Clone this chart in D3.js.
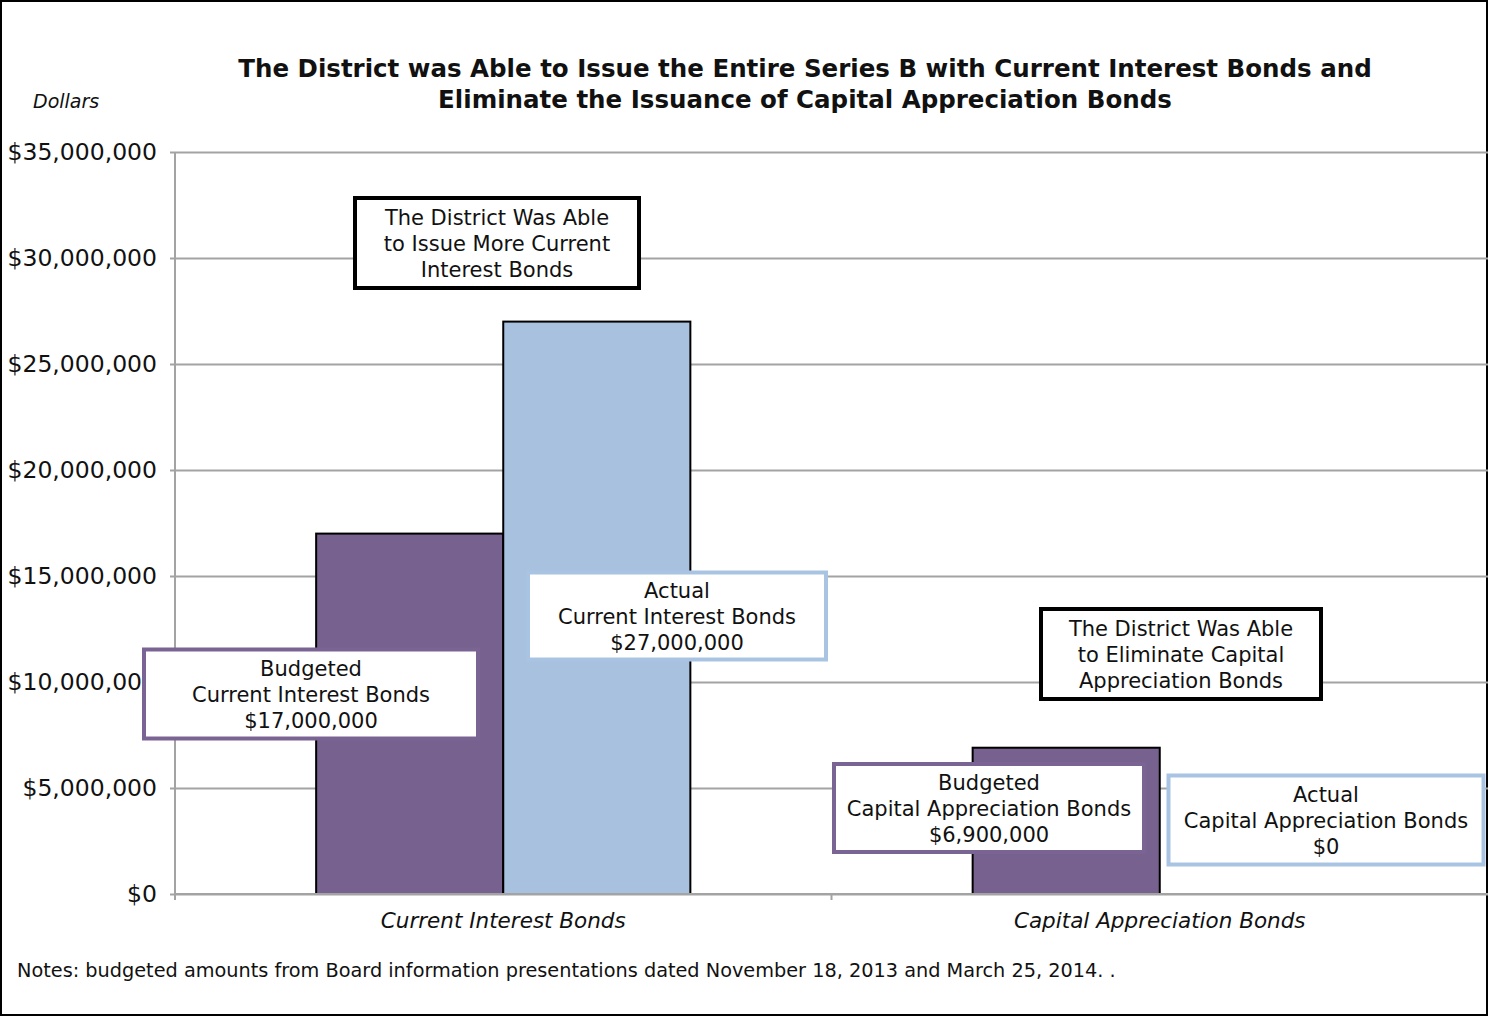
<!DOCTYPE html>
<html>
<head>
<meta charset="utf-8">
<script src="https://cdn.jsdelivr.net/npm/d3@7"></script>
<style>
  body { margin: 0; background: #fff; }
  svg { display: block; }
  text { font-family: "DejaVu Sans", Roboto, sans-serif; fill: #111; }
</style>
</head>
<body>
<svg id="chart" width="1488" height="1016"></svg>
<script>
// ---- data ----
const categories = ["Current Interest Bonds", "Capital Appreciation Bonds"];
const seriesNames = ["Budgeted", "Actual"];
const budgeted = [17000000, 6900000];
const actual = [27000000, 0];
const yTickValues = [0, 5000000, 10000000, 15000000, 20000000, 25000000, 30000000, 35000000];
const titleLines = [
  "The District was Able to Issue the Entire Series B with Current Interest Bonds and",
  "Eliminate the Issuance of Capital Appreciation Bonds"
];
const yAxisTitle = "Dollars";
const noteText = "Notes: budgeted amounts from Board information presentations dated November 18, 2013 and March 25, 2014.  .";
const messages = [
  ["The District Was Able", "to Issue More Current", "Interest Bonds"],
  ["The District Was Able", "to Eliminate Capital", "Appreciation Bonds"]
];

// ---- layout ----
const W = 1488, H = 1016;
const plot = { left: 175, right: 1488, top: 152, bottom: 894 };
const colors = { Budgeted: "#77618F", Actual: "#A7C1DF" };
const borderColors = { Budgeted: "#7A6494", Actual: "#A9C4E3" };
const gridColor = "#A3A3A3";
const fmt = d3.format("$,");

const svg = d3.select("#chart");

// outer frame
svg.append("rect").attr("x", 1).attr("y", 1).attr("width", W - 2).attr("height", H - 2)
  .attr("fill", "#fff").attr("stroke", "#000").attr("stroke-width", 2);

// scales
const x0 = d3.scaleBand().domain(categories).range([plot.left, plot.right])
  .paddingInner(0.43).paddingOuter(0.215);
const x1 = d3.scaleBand().domain(seriesNames).range([0, x0.bandwidth()]).padding(0);
const y = d3.scaleLinear().domain([0, 35000000]).range([plot.bottom, plot.top]);

// title
svg.append("g").selectAll("text").data(titleLines).join("text")
  .attr("x", 805).attr("y", (d, i) => 77 + i * 31)
  .attr("text-anchor", "middle")
  .style("font-weight", "bold").style("font-size", "24.5px")
  .text(d => d);

svg.append("text").attr("x", 33).attr("y", 108)
  .style("font-style", "italic").style("font-size", "19px").text(yAxisTitle);

// gridlines + y axis labels
const yAxis = d3.axisLeft(y).tickValues(yTickValues).tickFormat(fmt)
  .tickSize(-(plot.right - plot.left)).tickPadding(18);
const gy = svg.append("g").attr("transform", `translate(${plot.left},0)`).call(yAxis);
gy.select(".domain").remove();
gy.selectAll(".tick line").attr("stroke", gridColor).attr("stroke-width", 2)
  .attr("x1", -5);
gy.selectAll(".tick text").style("font-size", "23.5px").style("fill", "#111")
  .style("font-family", "'DejaVu Sans', sans-serif");

// bars
const rows = categories.map((c, i) => ({ category: c, values: [
  { series: "Budgeted", value: budgeted[i] },
  { series: "Actual", value: actual[i] }
]}));

const groups = svg.append("g").selectAll("g").data(rows).join("g")
  .attr("transform", d => `translate(${x0(d.category)},0)`);
groups.selectAll("rect").data(d => d.values.filter(v => v.value > 0)).join("rect")
  .attr("x", d => x1(d.series))
  .attr("y", d => y(d.value))
  .attr("width", x1.bandwidth())
  .attr("height", d => y(0) - y(d.value))
  .attr("fill", d => colors[d.series])
  .attr("stroke", "#000").attr("stroke-width", 2);

// axes lines
svg.append("line").attr("x1", plot.left).attr("x2", plot.left)
  .attr("y1", plot.top).attr("y2", plot.bottom + 5)
  .attr("stroke", gridColor).attr("stroke-width", 2);
svg.append("line").attr("x1", plot.left).attr("x2", plot.right)
  .attr("y1", plot.bottom).attr("y2", plot.bottom)
  .attr("stroke", gridColor).attr("stroke-width", 2);
const catEdges = [plot.left, x0(categories[1]) - x0.step() * x0.paddingInner() / 2];
svg.append("g").selectAll("line").data(catEdges).join("line")
  .attr("x1", d => d).attr("x2", d => d)
  .attr("y1", plot.bottom).attr("y2", plot.bottom + 6)
  .attr("stroke", gridColor).attr("stroke-width", 2);

// category labels
svg.append("g").selectAll("text").data(categories).join("text")
  .attr("x", d => x0(d) + x0.bandwidth() / 2).attr("y", 928)
  .attr("text-anchor", "middle")
  .style("font-style", "italic").style("font-size", "21.5px")
  .text(d => d);

// note
svg.append("text").attr("x", 17).attr("y", 977).style("font-size", "19.3px").text(noteText);

// callout boxes
function box(cx, cy, w, h, stroke, lines) {
  const g = svg.append("g");
  g.append("rect").attr("x", cx - w / 2).attr("y", cy - h / 2).attr("width", w).attr("height", h)
    .attr("fill", "#fff").attr("stroke", stroke).attr("stroke-width", 4);
  g.selectAll("text").data(lines).join("text")
    .attr("x", cx).attr("y", (d, i) => cy + (i - 1) * 26 + 8)
    .attr("text-anchor", "middle").style("font-size", "21px")
    .text(d => d);
}

// value callouts: label, category, value
const valueBoxLayout = [
  { cat: 0, series: "Budgeted", cx: 311, cy: 694, w: 334, h: 89 },
  { cat: 0, series: "Actual",   cx: 677, cy: 616, w: 298, h: 87 },
  { cat: 1, series: "Budgeted", cx: 989, cy: 808, w: 310, h: 88 },
  { cat: 1, series: "Actual",   cx: 1326, cy: 820, w: 315, h: 89 }
];
valueBoxLayout.forEach(b => {
  const v = b.series === "Budgeted" ? budgeted[b.cat] : actual[b.cat];
  box(b.cx, b.cy, b.w, b.h, borderColors[b.series], [b.series, categories[b.cat], fmt(v)]);
});

// message boxes
const messageLayout = [
  { cx: 497, cy: 243, w: 284, h: 90 },
  { cx: 1181, cy: 654, w: 280, h: 90 }
];
messages.forEach((m, i) => {
  const L = messageLayout[i];
  box(L.cx, L.cy, L.w, L.h, "#000", m);
});
</script>
</body>
</html>
